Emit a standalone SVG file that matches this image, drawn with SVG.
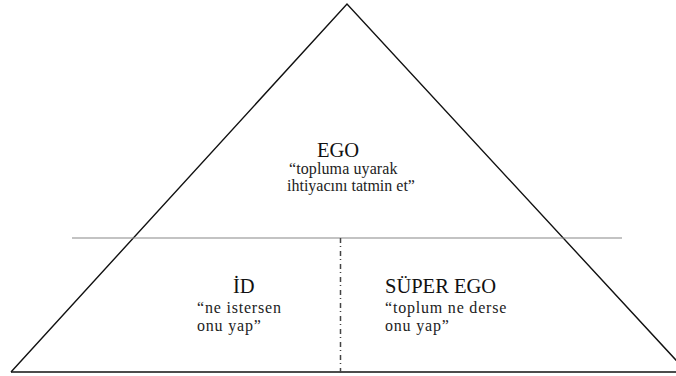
<svg xmlns="http://www.w3.org/2000/svg" width="676" height="376" viewBox="0 0 676 376">
<style>
.edge{stroke:#111;stroke-width:1.4;fill:none}
text{font-family:'Liberation Serif','Times New Roman',serif}
.title{font-size:20.5px;fill:#111}
.sub{font-size:16px;fill:#222}
</style>
<rect width="676" height="376" fill="#fff"/>
<g id="connectors">
<polyline class="edge" points="11,372 347,4 687,372"/>
<line class="edge" x1="11" y1="372" x2="676" y2="372" stroke-width="1.8"/>
<line x1="72" y1="238" x2="622" y2="238" stroke="#888" stroke-width="1.2"/>
<line x1="340.5" y1="238" x2="340.5" y2="376" stroke="#444" stroke-width="1.5" stroke-dasharray="5,3,1,4"/>
</g>
<g id="ego">
<text class="title" x="317" y="157" font-family="Liberation Serif">EGO</text>
<text class="sub" x="289" y="174" font-family="Liberation Serif" letter-spacing="0.1">“topluma uyarak</text>
<text class="sub" x="287" y="191" font-family="Liberation Serif" letter-spacing="0">ihtiyacını tatmin et”</text>
</g>
<g id="id">
<text class="title" x="233" y="293" font-family="Liberation Serif">İD</text>
<text class="sub" x="197" y="313" font-family="Liberation Serif" letter-spacing="0.8">“ne istersen</text>
<text class="sub" x="197" y="331" font-family="Liberation Serif" letter-spacing="0.8">onu yap”</text>
</g>
<g id="superego">
<text class="title" x="385" y="293" font-family="Liberation Serif">SÜPER EGO</text>
<text class="sub" x="385" y="313" font-family="Liberation Serif" letter-spacing="0.8">“toplum ne derse</text>
<text class="sub" x="385" y="331" font-family="Liberation Serif" letter-spacing="0.8">onu yap”</text>
</g>
</svg>
